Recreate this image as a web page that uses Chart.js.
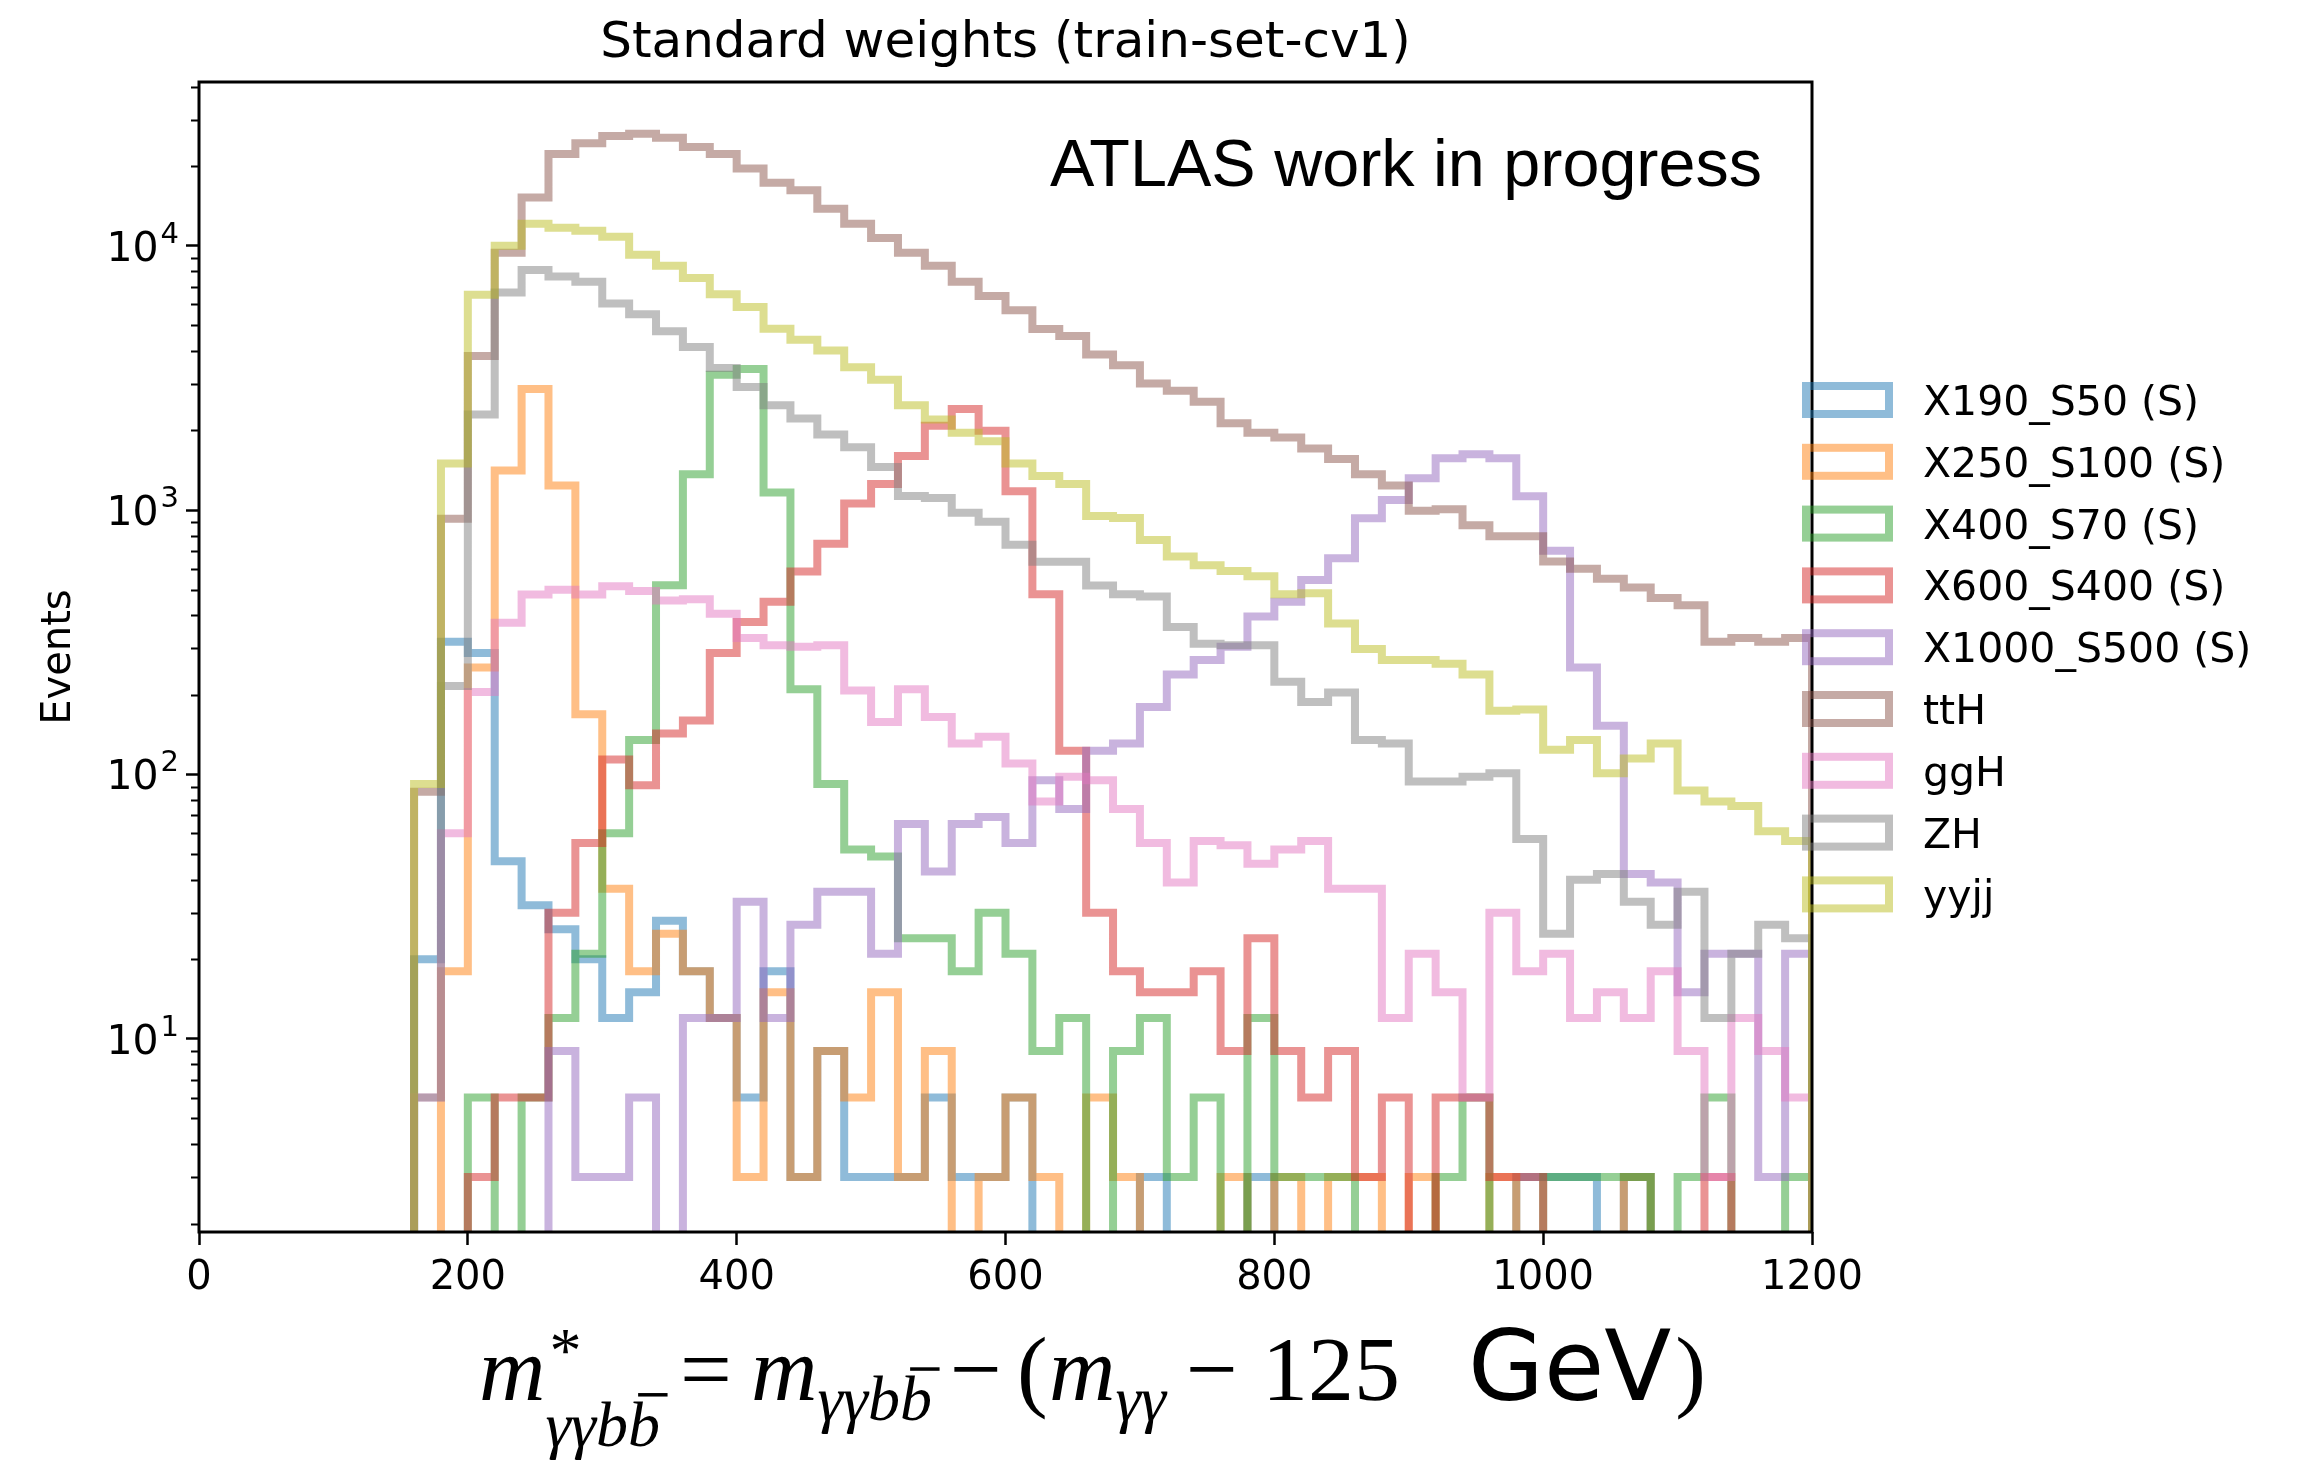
<!DOCTYPE html>
<html>
<head>
<meta charset="utf-8">
<title>m* distributions</title>
<script src="https://cdn.jsdelivr.net/npm/chart.js@4.4.1/dist/chart.umd.min.js"></script>
<style>
  html, body { margin: 0; padding: 0; background: #fff; }
  canvas { display: block; }
</style>
</head>
<body>
<canvas id="hist" width="2310" height="1467"></canvas>
<script>
// 20 GeV bins, the first filled bin starts at 160 GeV
const binStart = 160;
const binWidth = 20;

const seriesNames = ['X190_S50 (S)', 'X250_S100 (S)', 'X400_S70 (S)', 'X600_S400 (S)',
                     'X1000_S500 (S)', 'ttH', 'ggH', 'ZH', 'yyjj'];
const seriesColors = ['31,119,180', '255,127,14', '44,160,44', '214,39,40',
                      '148,103,189', '140,86,75', '227,119,194', '127,127,127', '188,189,34'];

const x190_s50 = [20, 318, 288, 47, 32, 26, 20, 12, 15, 28, 18, 12, 6, 18, 3, 9, 3, 3, 3, 6,
  3, 3, 6, 0, 0, 0, 0, 3, 0, 0, 0, 3, 0, 0, 0, 0, 0, 0, 0, 0,
  0, 3, 3, 3, 0, 3, 0, 0, 0, 0, 0, 0];
const x250_s100 = [0, 18, 254, 1410, 2870, 1240, 169, 37, 18, 25, 18, 12, 3, 15, 3, 9, 6, 15, 3, 9,
  0, 3, 6, 3, 0, 6, 3, 0, 0, 0, 3, 0, 3, 0, 3, 3, 0, 3, 0, 0,
  3, 0, 0, 0, 0, 3, 0, 0, 0, 0, 0, 0];
const x400_s70 = [0, 0, 6, 0, 6, 12, 21, 60, 135, 520, 1365, 3250, 3420, 1165, 210, 92, 52, 49, 24, 24,
  18, 30, 21, 9, 12, 0, 9, 12, 3, 6, 0, 12, 3, 3, 3, 0, 0, 0, 3, 6,
  0, 0, 3, 3, 3, 3, 0, 3, 6, 0, 0, 3];
const x600_s400 = [0, 0, 3, 6, 6, 30, 55, 114, 91, 143, 160, 288, 377, 450, 586, 746, 1058, 1256, 1600, 2086,
  2411, 1994, 1178, 480, 123, 30, 18, 15, 15, 18, 9, 24, 9, 6, 9, 3, 6, 0, 6, 6,
  3, 3, 0, 0, 0, 0, 0, 0, 3, 0, 0, 0];
const x1000_s500 = [0, 0, 0, 0, 0, 9, 3, 3, 6, 0, 12, 12, 33, 12, 27, 36, 36, 21, 65, 43,
  65, 69, 55, 95, 74, 123, 131, 180, 239, 271, 304, 396, 450, 544, 658, 931, 1091, 1320, 1570, 1626,
  1570, 1128, 701, 254, 153, 42, 39, 15, 21, 21, 3, 21];
const ttH = [86, 927, 3830, 9400, 15200, 22200, 24400, 26000, 26500, 25600, 23600, 22200, 19600, 17300, 16200, 13800, 12100, 10700, 9400, 8400,
  7300, 6450, 5700, 4840, 4550, 3880, 3530, 3010, 2830, 2570, 2130, 1960, 1880, 1710, 1560, 1365, 1240, 995, 1007, 877,
  797, 797, 639, 600, 550, 510, 465, 437, 318, 328, 318, 328];
const ggH = [6, 60, 205, 375, 479, 500, 479, 515, 494, 455, 460, 405, 328, 308, 304, 308, 208, 158, 210, 165,
  131, 139, 110, 79, 98, 95, 74, 55, 39, 56, 54, 46, 52, 56, 37, 37, 12, 21, 15, 6,
  30, 18, 21, 12, 15, 12, 18, 9, 3, 12, 9, 6];
const ZH = [6, 216, 2300, 6650, 8100, 7640, 7310, 6040, 5500, 4750, 4140, 3450, 2920, 2490, 2220, 1930, 1730, 1455, 1130, 1110,
  976, 904, 739, 638, 638, 518, 480, 471, 361, 312, 308, 308, 224, 188, 204, 135, 131, 94, 94, 98,
  101, 57, 25, 40, 42, 33, 27, 36, 12, 21, 27, 24];
const yyjj = [92, 1500, 6520, 10000, 12100, 11700, 11400, 10800, 9250, 8400, 7550, 6550, 5860, 4850, 4410, 4010, 3470, 3110, 2490, 2200,
  1960, 1820, 1500, 1345, 1255, 950, 933, 771, 667, 618, 588, 562, 480, 485, 372, 298, 271, 271, 262, 239,
  174, 176, 124, 135, 101, 115, 131, 87, 79, 76, 61, 56];

const seriesCounts = [x190_s50, x250_s100, x400_s70, x600_s400, x1000_s500, ttH, ggH, ZH, yyjj];

const xTicks = [0, 200, 400, 600, 800, 1000, 1200];
const yTicks = [10, 100, 1000, 10000];
const yTickExponents = ['1', '2', '3', '4'];

// plot frame in canvas pixels
const plotLeft = 199, plotRight = 1812, plotTop = 82, plotBottom = 1232;
const yMin = 1.86, yMax = 41600;
const logFloor = 0.1;   // empty bins drop below the axis
const lineW = 8;

function stepPoints(counts) {
    var pts = [{x: binStart, y: logFloor}];
    for (var i = 0; i < counts.length; i++) {
        pts.push({x: binStart + i * binWidth, y: counts[i] > 0 ? counts[i] : logFloor});
    }
    pts.push({x: binStart + counts.length * binWidth, y: logFloor});
    return pts;
}

const datasets = seriesNames.map(function(name, i) {
    return {
        label: name,
        data: stepPoints(seriesCounts[i]),
        borderColor: 'rgba(' + seriesColors[i] + ',0.5)',
        backgroundColor: 'transparent',
        borderWidth: lineW,
        borderJoinStyle: 'miter',
        borderCapStyle: 'butt',
        stepped: true,
        pointRadius: 0,
        fill: false,
        clip: 0,
        order: seriesNames.length - i
    };
});

function drawXLabel(ctx) {
    const F = 92, S = 64;
    const base = 1400;
    const it = s => 'italic ' + s + 'px "Liberation Serif"';
    const rm = s => s + 'px "Liberation Serif"';
    ctx.fillStyle = '#000';
    ctx.textBaseline = 'alphabetic';
    ctx.textAlign = 'left';

    function put(t, font, px, py) { ctx.font = font; ctx.fillText(t, px, py); return ctx.measureText(t).width; }
    // subscript gamma gamma b bbar, with the bar over the last b
    function subGGBB(px, py) {
        const hw = put('γγb', it(S), px, py);
        const bw = put('b', it(S), px + hw, py);
        ctx.lineWidth = 3.5;
        ctx.strokeStyle = '#000';
        ctx.beginPath();
        ctx.moveTo(px + hw + 0.16 * S, py - 0.8 * S);
        ctx.lineTo(px + hw + bw + 0.12 * S, py - 0.8 * S);
        ctx.stroke();
        return hw + bw;
    }

    // m*_{γγbb̄}
    let x = 479;
    x += put('m', it(F), x, base);
    put('*', rm(S), x + 4, base - 0.3 * F);
    subGGBB(x, base + 0.5 * F);
    put('=', rm(F), 680, base);
    // m_{γγbb̄}
    x = 751;
    x += put('m', it(F), x, base);
    subGGBB(x, base + 0.22 * F);
    put('\u2212', rm(F), 950, base);
    put('(', rm(F), 1017, base);
    // m_{γγ}
    x = 1049;
    x += put('m', it(F), x, base);
    put('γγ', it(S), x, base + 0.22 * F);
    put('\u2212', rm(F), 1186, base);
    put('125', rm(F), 1262, base);
    x = 1468;
    x += put('GeV', '98px "DejaVu Sans"', x, base);
    put(')', rm(F), x + 4, base);
}

const decorations = {
    id: 'decorations',
    afterDatasetsDraw(chart) {
        const ctx = chart.ctx;
        const a = chart.chartArea;
        ctx.save();
        ctx.strokeStyle = '#000';
        ctx.lineWidth = 3;
        ctx.strokeRect(a.left, a.top, a.right - a.left, a.bottom - a.top);

        // minor log ticks on the y axis
        const ys = chart.scales.y;
        ctx.lineWidth = 2;
        ctx.beginPath();
        for (var p = 1; p <= 10000; p *= 10) {
            for (var k = 2; k <= 9; k++) {
                var v = k * p;
                if (v < yMin || v > yMax) continue;
                var py = Math.round(ys.getPixelForValue(v)) + 0.5;
                ctx.moveTo(a.left - 8, py);
                ctx.lineTo(a.left, py);
            }
        }
        ctx.stroke();

        // decade labels 10^n
        ctx.fillStyle = '#000';
        ctx.textBaseline = 'alphabetic';
        ctx.textAlign = 'right';
        for (var j = 0; j < yTicks.length; j++) {
            var ty = ys.getPixelForValue(yTicks[j]);
            ctx.font = '29px "DejaVu Sans"';
            var ew = ctx.measureText(yTickExponents[j]).width;
            ctx.fillText(yTickExponents[j], 179, ty - 3);
            ctx.font = '41px "DejaVu Sans"';
            ctx.fillText('10', 177 - ew, ty + 15);
        }
        ctx.restore();
    },
    afterDraw(chart) {
        const ctx = chart.ctx;
        const a = chart.chartArea;
        ctx.save();
        ctx.fillStyle = '#000';

        // title
        ctx.font = '50px "DejaVu Sans"';
        ctx.textAlign = 'center';
        ctx.textBaseline = 'alphabetic';
        ctx.fillText('Standard weights (train-set-cv1)', (a.left + a.right) / 2, 57);

        // ATLAS tag
        ctx.font = '66.5px "Liberation Sans"';
        ctx.textAlign = 'right';
        ctx.fillText('ATLAS work in progress', 1762, 186);

        // y axis title
        ctx.save();
        ctx.translate(70, (a.top + a.bottom) / 2);
        ctx.rotate(-Math.PI / 2);
        ctx.font = '40px "DejaVu Sans"';
        ctx.textAlign = 'center';
        ctx.fillText('Events', 0, 0);
        ctx.restore();

        drawXLabel(ctx);

        // legend: outlined boxes like the step patches
        ctx.textAlign = 'left';
        ctx.font = '41px "DejaVu Sans"';
        for (var i = 0; i < seriesNames.length; i++) {
            var cy = 400 + i * 61.8;
            ctx.strokeStyle = 'rgba(' + seriesColors[i] + ',0.5)';
            ctx.lineWidth = lineW;
            ctx.lineJoin = 'miter';
            ctx.strokeRect(1806, cy - 14, 83, 28);
            ctx.fillStyle = '#000';
            ctx.fillText(seriesNames[i], 1923, cy + 15);
        }
        ctx.restore();
    }
};

document.addEventListener('DOMContentLoaded', function() {
    const tickFont = {family: 'DejaVu Sans', size: 40};
    new Chart(document.getElementById('hist'), {
        type: 'line',
        data: {datasets: datasets},
        options: {
            responsive: false,
            animation: false,
            devicePixelRatio: 1,
            events: [],
            layout: {padding: {left: 0, top: plotTop, right: 2310 - plotRight, bottom: 0}},
            plugins: {legend: {display: false}, tooltip: {enabled: false}, title: {display: false}},
            scales: {
                x: {
                    type: 'linear',
                    min: 0,
                    max: 1200,
                    afterFit: function(scale) { scale.height = 1467 - plotBottom; },
                    afterBuildTicks: function(scale) { scale.ticks = xTicks.map(v => ({value: v})); },
                    border: {display: false},
                    grid: {drawOnChartArea: false, drawTicks: true, tickLength: 13, tickColor: '#000', tickWidth: 2.5},
                    ticks: {
                        font: tickFont, color: '#000', padding: 10, maxRotation: 0, autoSkip: false,
                        callback: function(value) { return String(value); }
                    }
                },
                y: {
                    type: 'logarithmic',
                    min: yMin,
                    max: yMax,
                    afterFit: function(scale) { scale.width = plotLeft; },
                    afterBuildTicks: function(scale) { scale.ticks = yTicks.map(v => ({value: v})); },
                    border: {display: false},
                    grid: {drawOnChartArea: false, drawTicks: true, tickLength: 13, tickColor: '#000', tickWidth: 2.5},
                    ticks: {
                        font: tickFont, color: '#000', padding: 8, autoSkip: false,
                        callback: function() { return ''; }
                    }
                }
            }
        },
        plugins: [decorations]
    });
});
</script>
</body>
</html>
